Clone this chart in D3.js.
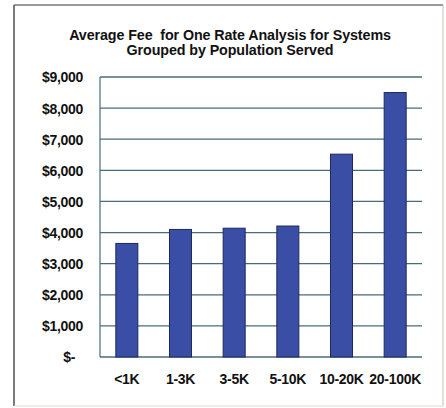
<!DOCTYPE html>
<html>
<head>
<meta charset="utf-8">
<script src="https://cdn.jsdelivr.net/npm/d3@7/dist/d3.min.js"></script>
<style>
  html, body { margin: 0; padding: 0; background: #fff; }
  svg { display: block; }
  text { font-family: "Liberation Sans", Arial, sans-serif; font-weight: bold; fill: #111; white-space: pre; }
</style>
</head>
<body>
<svg id="chart" width="446" height="408"></svg>
<script>
// Population-served groups and the average fee for one rate analysis
const categories = ["<1K", "1-3K", "3-5K", "5-10K", "10-20K", "20-100K"];
const fees = [3650, 4100, 4140, 4210, 6520, 8500];
const yTicks = [0, 1000, 2000, 3000, 4000, 5000, 6000, 7000, 8000, 9000];
const titleLines = ["Average Fee  for One Rate Analysis for Systems", "Grouped by Population Served"];

const svg = d3.select("#chart");
const plot = { left: 100, right: 422, top: 77, bottom: 357 };
const font = "\"Liberation Sans\", Arial, sans-serif";

// outer frame
svg.append("line").attr("x1", 14).attr("y1", 5).attr("x2", 14).attr("y2", 406)
  .attr("stroke", "#222").attr("stroke-width", 1.2);
svg.append("line").attr("x1", 14).attr("y1", 5).attr("x2", 443).attr("y2", 5)
  .attr("stroke", "#333").attr("stroke-width", 1);
svg.append("line").attr("x1", 443).attr("y1", 5).attr("x2", 443).attr("y2", 406)
  .attr("stroke", "#cdbdb9").attr("stroke-width", 1);
svg.append("line").attr("x1", 14).attr("y1", 406).attr("x2", 443).attr("y2", 406)
  .attr("stroke", "#e2d6d3").attr("stroke-width", 1);

// title
svg.selectAll("text.title")
  .data(titleLines)
  .join("text")
  .attr("class", "title")
  .attr("x", 230)
  .attr("y", (d, i) => 40 + i * 15)
  .attr("text-anchor", "middle")
  .style("font-size", "14.3px")
  .style("letter-spacing", "-0.1px")
  .text(d => d);

const x = d3.scaleBand().domain(categories).range([plot.left, plot.right]).paddingInner(0.59).paddingOuter(0.295);
const y = d3.scaleLinear().domain([0, 9000]).range([plot.bottom, plot.top]);

// horizontal gridlines
svg.append("g")
  .selectAll("line")
  .data(yTicks)
  .join("line")
  .attr("x1", plot.left).attr("x2", plot.right)
  .attr("y1", d => y(d)).attr("y2", d => y(d))
  .attr("stroke", "#4b6b79").attr("stroke-width", 1.3);

// left axis line
svg.append("line")
  .attr("x1", plot.left).attr("x2", plot.left)
  .attr("y1", plot.top).attr("y2", plot.bottom)
  .attr("stroke", "#4b6b79").attr("stroke-width", 1.2);

// bars
svg.append("g")
  .selectAll("rect")
  .data(fees)
  .join("rect")
  .attr("x", (d, i) => x(categories[i]))
  .attr("y", d => y(d))
  .attr("width", x.bandwidth())
  .attr("height", d => y(0) - y(d))
  .attr("fill", "#3a4ea6")
  .attr("stroke", "#1d2a5c")
  .attr("stroke-width", 1);

// y axis labels
const yAxis = d3.axisLeft(y)
  .tickValues(yTicks)
  .tickSize(0)
  .tickPadding(0)
  .tickFormat(d => d === 0 ? "$-" : d3.format("$,")(d));
const ya = svg.append("g")
  .attr("transform", "translate(83,0)")
  .call(yAxis);
ya.select(".domain").remove();
ya.selectAll("text")
  .style("font-size", "14px")
  .style("font-family", font)
  .style("font-weight", "bold")
  .style("letter-spacing", "-0.3px")
  .attr("dy", "0.35em")
  .attr("fill", "#111")
  .attr("x", d => d === 0 ? -8 : 0);

// x axis labels
const xAxis = d3.axisBottom(x).tickSize(0).tickPadding(0);
const xa = svg.append("g")
  .attr("transform", `translate(0,${plot.bottom})`)
  .call(xAxis);
xa.select(".domain").remove();
xa.selectAll("text")
  .style("font-size", "14px")
  .style("font-family", font)
  .style("font-weight", "bold")
  .style("letter-spacing", "-0.3px")
  .attr("fill", "#111")
  .attr("dy", 0)
  .attr("y", 27);
</script>
</body>
</html>
